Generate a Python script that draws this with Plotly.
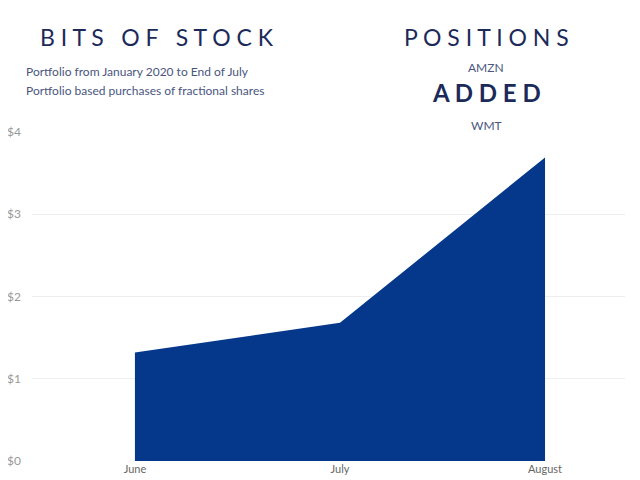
import plotly.graph_objects as go

months = ["June", "July", "August"]
values = [1.32, 1.68, 3.69]
y_ticks = [0, 1, 2, 3, 4]
y_labels = ["$0", "$1", "$2", "$3", "$4"]

navy = "#05388a"
OX, OY = 8, 7  # page body offset
W, H = 632, 472
L, R, T, B = 32 - OX, 625 - OX, 131 - OY, 460 - OY
fig = go.Figure(go.Scatter(x=[0, 1, 2], y=values, mode="lines", fill="tozeroy",
                           line=dict(color=navy, width=0), fillcolor=navy,
                           hoverinfo="skip"))
fig.update_layout(
    width=W, height=H, margin=dict(l=L, r=W - R, t=T, b=H - B, autoexpand=False),
    paper_bgcolor="white", plot_bgcolor="white", showlegend=False,
    font=dict(family="Lato", color="#999"),
    xaxis=dict(tickvals=[0, 1, 2], ticktext=months, range=[-0.502, 2.39],
               showgrid=False, zeroline=False, showline=False, automargin=False,
               tickfont=dict(size=11, color="#666"), ticks=""),
    yaxis=dict(tickvals=y_ticks, ticktext=y_labels, range=[0, 4], automargin=False,
               gridcolor="#eeeeee", zeroline=False, showline=False,
               ticklabelstandoff=10,
               tickfont=dict(size=12, color="#999"), ticks=""),
)
def ann(x, y, text, size, color="#1c2a5a", anchor="left"):
    x -= OX; y -= OY
    fig.add_annotation(x=(x - L) / (R - L), y=(B - y) / (B - T), xref="paper", yref="paper",
                       text=text, showarrow=False,
                       font=dict(family="Lato", size=size, color=color),
                       xanchor=anchor, yanchor="middle")
ann(38, 36, "B I T S   O F   S T O C K", 23)
ann(24, 70, "Portfolio from January 2020 to End of July", 12, "#4a5680")
ann(24, 89, "Portfolio based purchases of fractional shares", 12, "#4a5680")
ann(486, 36, "P O S I T I O N S", 23, anchor="center")
ann(486, 67, "AMZN", 12, "#4a5680", anchor="center")
ann(486, 91, "<b>A D D E D</b>", 24, anchor="center")
ann(486, 125, "WMT", 12, "#4a5680", anchor="center")
fig.write_html("out.html")
